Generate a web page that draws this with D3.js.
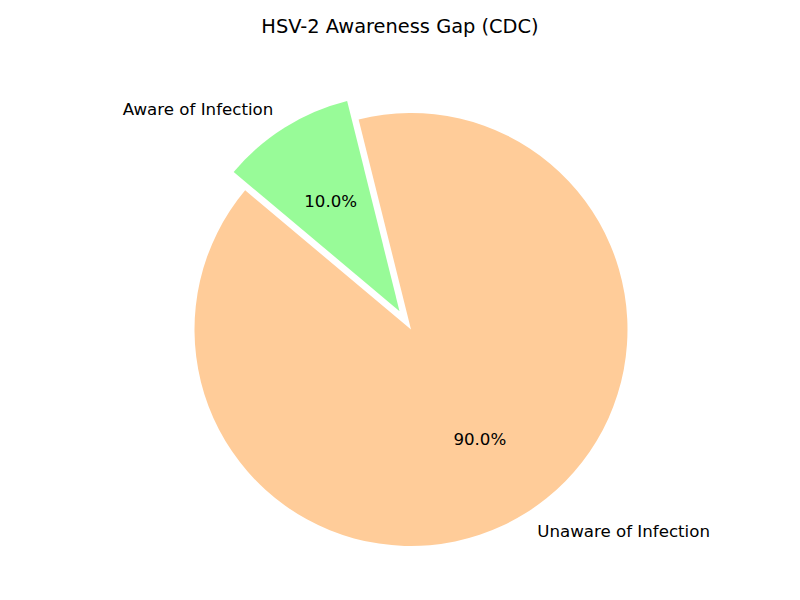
<!DOCTYPE html>
<html>
<head>
<meta charset="utf-8">
<script src="https://cdn.jsdelivr.net/npm/d3@7"></script>
<style>
  body { margin: 0; background: #fff; }
  svg { display: block; font-family: "DejaVu Sans", sans-serif; }
</style>
</head>
<body>
<svg id="chart" width="800" height="600"></svg>
<script>
const categories = ["Aware of Infection", "Unaware of Infection"];
const values = [10, 90];
const colors = ["#98FB98", "#FFCC99"];
const explode = [0.1, 0];
const title = "HSV-2 Awareness Gap (CDC)";

const svg = d3.select("#chart");
const cx = 411, cy = 329.5, r = 216.5;

svg.append("text")
  .attr("x", 400).attr("y", 33)
  .attr("text-anchor", "middle")
  .attr("font-size", "19.4px")
  .attr("fill", "#000")
  .text(title);

const data = categories.map((c, i) => ({ label: c, value: values[i], color: colors[i], explode: explode[i] }));
const total = d3.sum(values);

// matplotlib startangle=140, counterclock=False
const start = (90 - 140) * Math.PI / 180;
const pie = d3.pie().value(d => d.value).sort(null)
  .startAngle(start).endAngle(start + 2 * Math.PI);
const arcs = pie(data);
const arc = d3.arc().innerRadius(0).outerRadius(r);

const g = svg.append("g").attr("transform", `translate(${cx},${cy})`);

arcs.forEach(a => {
  const mid = (a.startAngle + a.endAngle) / 2;
  const ux = Math.sin(mid), uy = -Math.cos(mid);
  const ox = ux * a.data.explode * r, oy = uy * a.data.explode * r;
  const wg = g.append("g").attr("transform", `translate(${ox},${oy})`);
  wg.append("path").attr("d", arc(a)).attr("fill", a.data.color);
  // label at 1.1r
  const lx = ux * 1.1 * r, ly = uy * 1.1 * r;
  wg.append("text")
    .attr("x", lx).attr("y", ly)
    .attr("dy", "0.35em")
    .attr("text-anchor", lx > 0 ? "start" : "end")
    .attr("font-size", "16.67px")
    .attr("fill", "#000")
    .text(a.data.label);
  // pct at 0.6r
  wg.append("text")
    .attr("x", ux * 0.6 * r).attr("y", uy * 0.6 * r)
    .attr("dy", "0.35em")
    .attr("text-anchor", "middle")
    .attr("font-size", "16.67px")
    .attr("fill", "#000")
    .text((a.data.value / total * 100).toFixed(1) + "%");
});
</script>
</body>
</html>
